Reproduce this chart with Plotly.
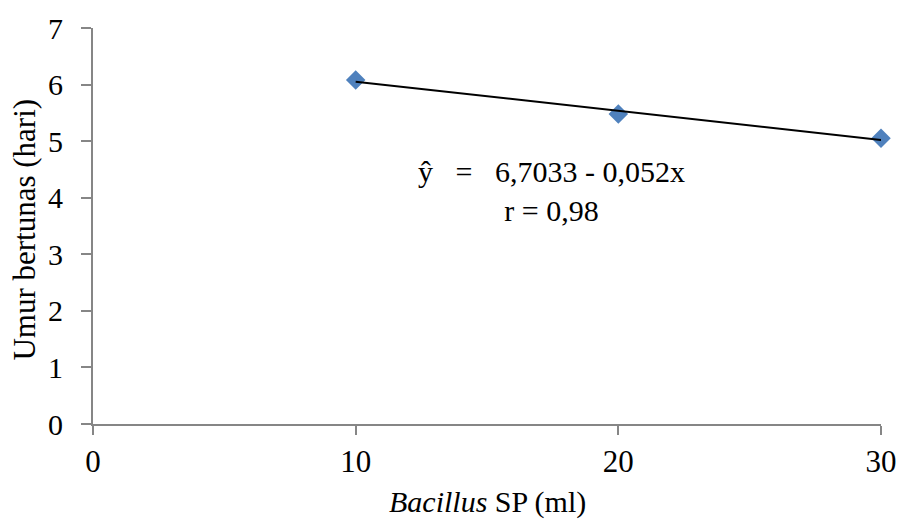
import numpy as np
import plotly.graph_objects as go

x_vals = [10, 20, 30]
y_vals = [6.08, 5.48, 5.05]
x_ticks = [0, 10, 20, 30]
y_ticks = [0, 1, 2, 3, 4, 5, 6, 7]
eq_text = "ŷ\u00a0\u00a0\u00a0=\u00a0\u00a0\u00a06,7033 - 0,052x<br>r = 0,98"
x_title = "<i>Bacillus</i> SP (ml)"
y_title = "Umur bertunas (hari)"

slope, intercept = np.polyfit(x_vals, y_vals, 1)
trend_x = [min(x_vals), max(x_vals)]
trend_y = [intercept + slope * v for v in trend_x]

FONT = "Times New Roman, Liberation Serif, serif"
AXIS_COLOR = "#868686"

fig = go.Figure()
fig.add_trace(go.Scatter(
    x=x_vals, y=y_vals, mode="markers",
    marker=dict(symbol="diamond", size=15, color="#4F81BD"),
    showlegend=False, cliponaxis=False, hoverinfo="skip",
))
fig.add_trace(go.Scatter(
    x=trend_x, y=trend_y, mode="lines",
    line=dict(color="black", width=2),
    showlegend=False, hoverinfo="skip",
))

fig.add_annotation(
    x=17.47, y=4.11, xref="x", yref="y",
    xanchor="center", yanchor="middle",
    text=eq_text, showarrow=False, align="center",
    font=dict(family=FONT, size=30, color="black"),
)
fig.add_annotation(
    x=0.5, y=-0.198, xref="paper", yref="paper",
    xanchor="center", yanchor="middle",
    text=x_title, showarrow=False,
    font=dict(family=FONT, size=30, color="black"),
)
fig.add_annotation(
    x=-0.0863, y=0.491, xref="paper", yref="paper",
    xanchor="center", yanchor="middle",
    text=y_title, showarrow=False, textangle=-90,
    font=dict(family=FONT, size=31, color="black"),
)

fig.update_layout(
    width=899, height=519,
    margin=dict(l=93, r=18, t=28, b=95),
    paper_bgcolor="white", plot_bgcolor="white",
    font=dict(family=FONT, size=30, color="black"),
    xaxis=dict(
        range=[0, 30], tickvals=x_ticks, showgrid=False, zeroline=False,
        showline=True, linecolor=AXIS_COLOR, linewidth=2, automargin=False,
        ticks="outside", ticklen=9, tickcolor=AXIS_COLOR, tickwidth=1.5,
        tickfont=dict(family=FONT, size=31),
    ),
    yaxis=dict(
        range=[0, 7], tickvals=y_ticks, showgrid=False, zeroline=False,
        showline=True, linecolor=AXIS_COLOR, linewidth=2, automargin=False,
        ticks="outside", ticklen=10, tickcolor=AXIS_COLOR, tickwidth=1.5,
        tickfont=dict(family=FONT, size=30), ticklabelstandoff=12,
    ),
)

fig.write_html(
    "out.html",
    config={"displayModeBar": False},
    post_script="document.body.style.margin='0';document.body.style.overflow='hidden';",
)
